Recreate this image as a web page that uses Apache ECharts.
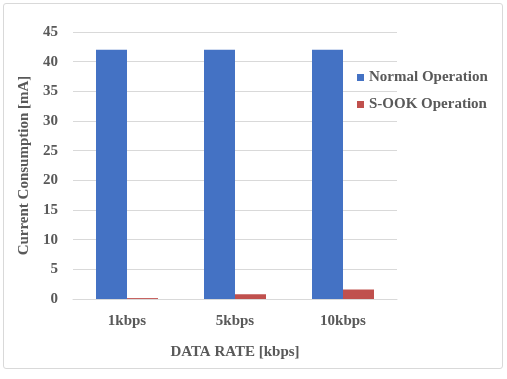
<!DOCTYPE html>
<html>
<head>
<meta charset="utf-8">
<script src="https://cdn.jsdelivr.net/npm/echarts@6/dist/echarts.min.js"></script>
<style>
html, body { margin: 0; padding: 0; background: #fff; }
#frame { position: absolute; left: 3px; top: 3px; width: 498px; height: 364px; border: 1px solid #d9d9d9; border-radius: 3px; }
#main { position: absolute; left: 0; top: 0; width: 507px; height: 379px; }
</style>
</head>
<body>
<div id="frame"></div>
<div id="main"></div>
<script>
var rates = ['1kbps', '5kbps', '10kbps'];
var normalOp = [42, 42, 42];
var sookOp = [0.15, 0.8, 1.6];
var yTicks = [0, 5, 10, 15, 20, 25, 30, 35, 40, 45];

var font = '"Liberation Serif", "Times New Roman", serif';
var grey = '#595959';

var myChart = echarts.init(document.getElementById('main'));

var option = {
    animation: false,
    legend: {
        orient: 'vertical',
        left: 357,
        top: 70,
        padding: 0,
        itemWidth: 7,
        itemHeight: 7,
        itemGap: 12,
        icon: 'rect',
        textStyle: { fontFamily: font, fontWeight: 'bold', fontSize: 15, color: grey },
        data: ['Normal Operation', 'S-OOK Operation']
    },
    grid: { left: 73, right: 110, top: 32, bottom: 80 },
    xAxis: {
        type: 'category',
        data: rates,
        name: 'DATA RATE [kbps]',
        nameLocation: 'middle',
        nameGap: 46,
        nameTextStyle: { fontFamily: font, fontWeight: 'bold', fontSize: 15, color: grey },
        axisLine: { lineStyle: { color: '#d9d9d9' } },
        axisTick: { show: false },
        axisLabel: { margin: 15, fontFamily: font, fontWeight: 'bold', fontSize: 15, color: grey }
    },
    yAxis: {
        type: 'value',
        min: yTicks[0],
        max: yTicks[yTicks.length - 1],
        interval: 5,
        name: 'Current Consumption [mA]',
        nameLocation: 'middle',
        nameGap: 40,
        nameTextStyle: { fontFamily: font, fontWeight: 'bold', fontSize: 15, color: grey },
        axisLine: { show: false },
        axisTick: { show: false },
        splitLine: { lineStyle: { color: '#d9d9d9' } },
        axisLabel: { margin: 15, fontFamily: font, fontWeight: 'bold', fontSize: 15, color: grey }
    },
    series: [
        {
            name: 'Normal Operation',
            type: 'bar',
            data: normalOp,
            barWidth: 31,
            barGap: '0%',
            itemStyle: { color: '#4472C4' }
        },
        {
            name: 'S-OOK Operation',
            type: 'bar',
            data: sookOp,
            barWidth: 31,
            itemStyle: { color: '#C0504D' }
        }
    ]
};

myChart.setOption(option);
</script>
</body>
</html>
